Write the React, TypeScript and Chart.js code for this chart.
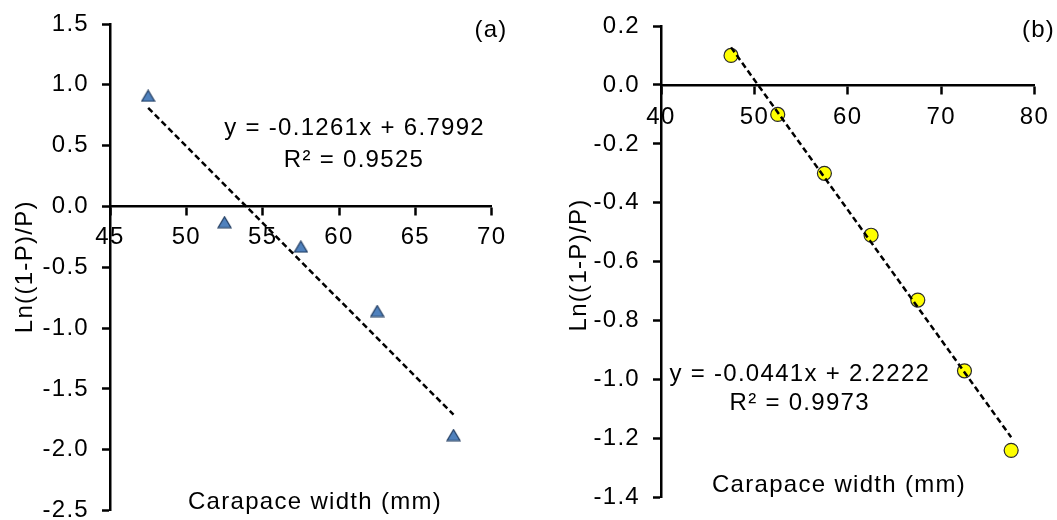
import React, { useEffect, useRef } from "react";
import { Chart, registerables } from "chart.js";

Chart.register(...registerables);

// ---------- data ----------
const widthsA = [47.5, 52.5, 57.5, 62.5, 67.5];
const lnA = [0.91, -0.13, -0.33, -0.86, -1.88];
const slopeA = -0.1261;
const interceptA = 6.7992;
const eqA = "y = -0.1261x + 6.7992";
const r2A = "R² = 0.9525";

const widthsB = [47.5, 52.5, 57.5, 62.5, 67.5, 72.5, 77.5];
const lnB = [0.1, -0.1, -0.3, -0.51, -0.73, -0.97, -1.24];
const slopeB = -0.0441;
const interceptB = 2.2222;
const eqB = "y = -0.0441x + 2.2222";
const r2B = "R² = 0.9973";

const xRangeA = [45, 70, 5];
const yRangeA = [-2.5, 1.5, 0.5];
const xRangeB = [40, 80, 10];
const yRangeB = [-1.4, 0.2, 0.2];

const xTitle = "Carapace width (mm)";
const yTitle = "Ln((1-P)/P)";

// ---------- styles ----------
const FONT = "'Liberation Sans', Arial, sans-serif";
const FS = 24;
const LS = "1.3px";
const H = 520;
const AXIS_W = 2.5;

type Pos = { x: number; y: number };
type PanelCfg = {
  label: string;
  xs: number[];
  ys: number[];
  slope: number;
  intercept: number;
  eq: string;
  r2: string;
  xr: number[];
  yr: number[];
  left: number;
  width: number;
  areaLeft: number;
  padTop: number;
  padBottom: number;
  padRight: number;
  xTickPad: number;
  marker: "triangle" | "circle";
  labelPos: Pos;
  eq1Pos: Pos;
  eq2Pos: Pos;
  xTitlePos: Pos;
  yTitlePos: Pos;
};

const panelA: PanelCfg = {
  label: "(a)",
  xs: widthsA,
  ys: lnA,
  slope: slopeA,
  intercept: interceptA,
  eq: eqA,
  r2: r2A,
  xr: xRangeA,
  yr: yRangeA,
  left: 0,
  width: 530,
  areaLeft: 110,
  padTop: 24,
  padBottom: 9.5,
  padRight: 38.3,
  xTickPad: 9,
  marker: "triangle",
  labelPos: { x: 491, y: 37 },
  eq1Pos: { x: 354.6, y: 135.4 },
  eq2Pos: { x: 354, y: 166.5 },
  xTitlePos: { x: 315, y: 508.5 },
  yTitlePos: { x: 32, y: 266.7 },
};

const panelB: PanelCfg = {
  label: "(b)",
  xs: widthsB,
  ys: lnB,
  slope: slopeB,
  intercept: interceptB,
  eq: eqB,
  r2: r2B,
  xr: xRangeB,
  yr: yRangeB,
  left: 530,
  width: 527,
  areaLeft: 131,
  padTop: 26,
  padBottom: 22.5,
  padRight: 22.5,
  xTickPad: 10,
  marker: "circle",
  labelPos: { x: 508.5, y: 37 },
  eq1Pos: { x: 269.8, y: 380.5 },
  eq2Pos: { x: 269.7, y: 410 },
  xTitlePos: { x: 309, y: 492.4 },
  yTitlePos: { x: 55.5, y: 265 },
};

function makeTriangle(): HTMLCanvasElement {
  const c = document.createElement("canvas");
  c.width = 15;
  c.height = 13;
  const g = c.getContext("2d")!;
  g.beginPath();
  g.moveTo(7.5, 1);
  g.lineTo(14, 12);
  g.lineTo(1, 12);
  g.closePath();
  g.fillStyle = "#4F81BD";
  g.fill();
  g.lineWidth = 1.2;
  g.strokeStyle = "#1F3A5F";
  g.stroke();
  return c;
}

function Panel({ cfg }: { cfg: PanelCfg }) {
  const ref = useRef<HTMLCanvasElement>(null);

  useEffect(() => {
    const canvas = ref.current;
    if (!canvas) return;

    const textPlugin = {
      id: "panelText",
      beforeDraw(chart: any) {
        chart.ctx.letterSpacing = LS;
      },
      afterDraw(chart: any) {
        const ctx = chart.ctx as CanvasRenderingContext2D;
        ctx.save();
        (ctx as any).letterSpacing = LS;
        ctx.fillStyle = "#000";
        ctx.font = `${FS}px ${FONT}`;
        ctx.textAlign = "center";
        ctx.textBaseline = "alphabetic";
        ctx.fillText(cfg.label, cfg.labelPos.x, cfg.labelPos.y);
        ctx.fillText(cfg.eq, cfg.eq1Pos.x, cfg.eq1Pos.y);
        ctx.fillText(cfg.r2, cfg.eq2Pos.x, cfg.eq2Pos.y);
        ctx.fillText(xTitle, cfg.xTitlePos.x, cfg.xTitlePos.y);
        ctx.translate(cfg.yTitlePos.x, cfg.yTitlePos.y);
        ctx.rotate(-Math.PI / 2);
        ctx.fillText(yTitle, 0, 0);
        ctx.restore();
      },
    };

    const first = cfg.xs[0];
    const last = cfg.xs[cfg.xs.length - 1];
    const trend = [
      { x: first, y: cfg.slope * first + cfg.intercept },
      { x: last, y: cfg.slope * last + cfg.intercept },
    ];
    const points = cfg.xs.map((x, i) => ({ x, y: cfg.ys[i] }));

    const pointStyle: any = cfg.marker === "triangle" ? makeTriangle() : "circle";

    const zeroPad = (s: any) => {
      s.paddingLeft = 0;
      s.paddingRight = 0;
      s.paddingTop = 0;
      s.paddingBottom = 0;
    };

    const tickFont = { family: FONT, size: FS };
    const grid = {
      drawOnChartArea: false,
      drawTicks: true,
      tickLength: 8,
      tickWidth: AXIS_W,
      tickColor: "#000",
    };
    const border = { display: true, color: "#000", width: AXIS_W };

    const chart = new Chart(canvas, {
      type: "scatter",
      data: {
        datasets: [
          {
            label: "trend",
            data: trend,
            showLine: true,
            borderColor: "#000",
            borderWidth: 2.5,
            borderDash: [6, 3.5],
            pointRadius: 0,
            pointHoverRadius: 0,
            fill: false,
          } as any,
          {
            label: "data",
            data: points,
            pointStyle,
            pointRadius: 7,
            pointHoverRadius: 7,
            backgroundColor: cfg.marker === "circle" ? "#FFFF00" : "#4F81BD",
            borderColor: cfg.marker === "circle" ? "#2b2b2b" : "#1F3A5F",
            borderWidth: 1.2,
            showLine: false,
          } as any,
        ],
      },
      options: {
        animation: false,
        responsive: false,
        maintainAspectRatio: false,
        events: [],
        layout: {
          padding: { left: 0, top: cfg.padTop, right: cfg.padRight, bottom: cfg.padBottom },
        },
        plugins: {
          legend: { display: false },
          tooltip: { enabled: false },
        },
        scales: {
          x: {
            type: "linear",
            position: { y: 0 } as any,
            min: cfg.xr[0],
            max: cfg.xr[1],
            ticks: {
              stepSize: cfg.xr[2],
              color: "#000",
              font: tickFont,
              padding: cfg.xTickPad,
              maxRotation: 0,
              autoSkip: false,
            },
            grid,
            border,
            afterFit: zeroPad,
          } as any,
          y: {
            type: "linear",
            position: "left",
            min: cfg.yr[0],
            max: cfg.yr[1],
            ticks: {
              stepSize: cfg.yr[2],
              color: "#000",
              font: tickFont,
              padding: 13,
              autoSkip: false,
              callback: (v: any) => {
                const n = Math.abs(Number(v)) < 1e-9 ? 0 : Number(v);
                return n.toFixed(1);
              },
            },
            grid,
            border,
            afterFit: (s: any) => {
              zeroPad(s);
              s.width = cfg.areaLeft;
            },
          } as any,
        },
      },
      plugins: [textPlugin],
    });

    return () => chart.destroy();
  }, [cfg]);

  return (
    <div
      style={{
        position: "absolute",
        left: cfg.left,
        top: 0,
        width: cfg.width,
        height: H,
      }}
    >
      <canvas
        ref={ref}
        width={cfg.width}
        height={H}
        style={{ width: cfg.width, height: H, display: "block" }}
      />
    </div>
  );
}

export default function App() {
  return (
    <div
      style={{
        position: "absolute",
        left: 0,
        top: 0,
        width: 1057,
        height: H,
        background: "#fff",
        overflow: "hidden",
      }}
    >
      <Panel cfg={panelA} />
      <Panel cfg={panelB} />
    </div>
  );
}
